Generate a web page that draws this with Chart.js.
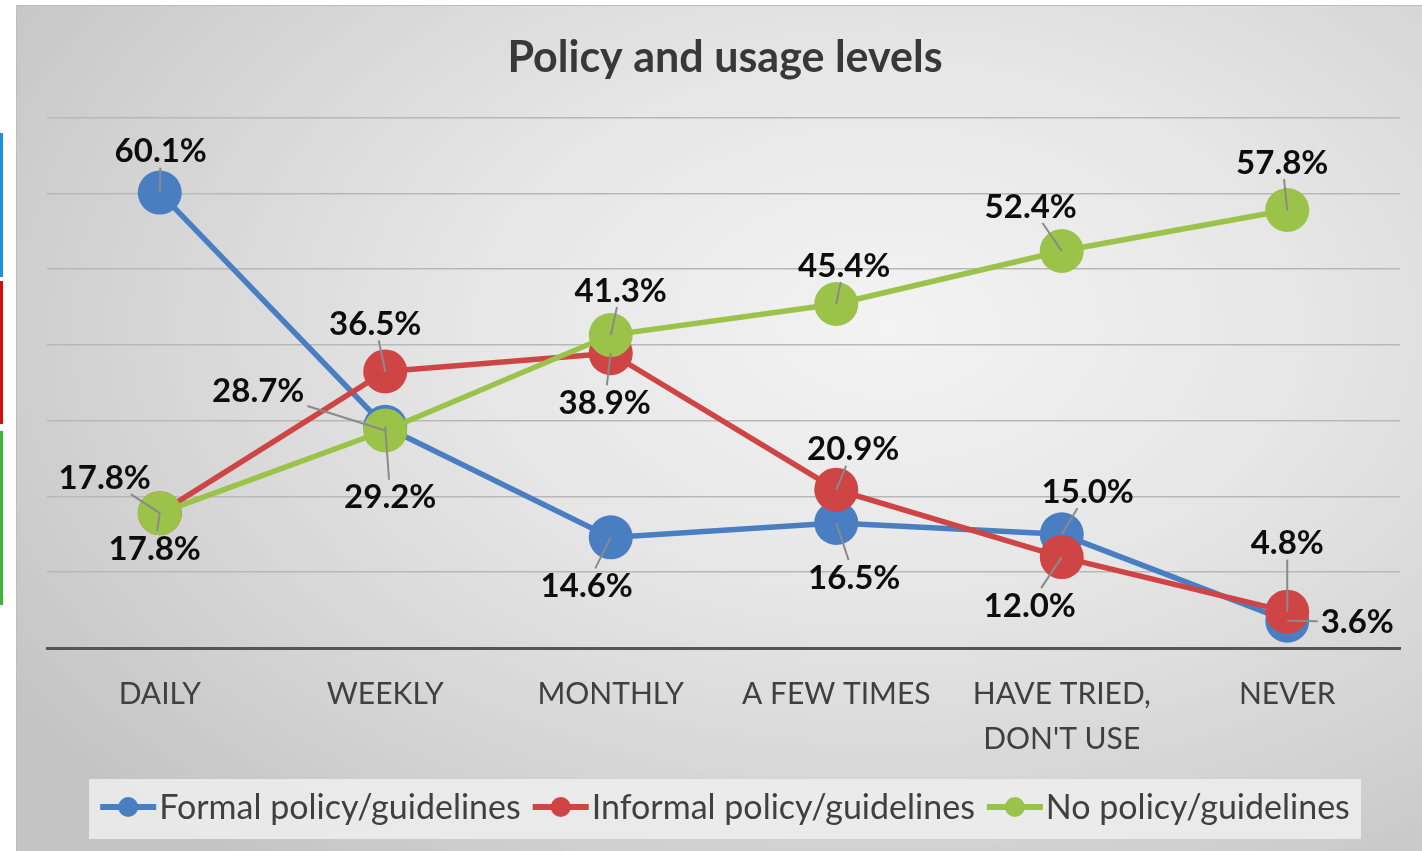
<!DOCTYPE html>
<html>
<head>
<meta charset="utf-8">
<script src="https://cdn.jsdelivr.net/npm/chart.js@4/dist/chart.umd.min.js"></script>
<style>
  html, body { margin: 0; padding: 0; background: #ffffff; }
  body { width: 1422px; height: 851px; position: relative; overflow: hidden; }
  #frame {
    position: absolute; left: 16px; top: 5px; width: 1406px; height: 846px;
    background: radial-gradient(ellipse 75% 80% at 62% 38%, #f3f3f3 0%, #e6e6e6 40%, #d3d3d3 75%, #c4c4c4 100%);
    border-top: 1px solid #bdbdbd; border-left: 1px solid #bdbdbd; box-sizing: border-box;
  }
  .mark { position: absolute; left: 0; width: 3px; }
</style>
</head>
<body>
<div class="mark" style="top:133px;height:144px;background:#1e90e0"></div>
<div class="mark" style="top:281px;height:143px;background:#d01010"></div>
<div class="mark" style="top:431px;height:174px;background:#3cb43c"></div>
<div id="frame"><canvas id="c"></canvas></div>
<script>
const categories = ['DAILY', 'WEEKLY', 'MONTHLY', 'A FEW TIMES', ['HAVE TRIED,', "DON'T USE"], 'NEVER'];
const formalValues = [60.1, 29.2, 14.6, 16.5, 15.0, 3.6];
const informalValues = [17.8, 36.5, 38.9, 20.9, 12.0, 4.8];
const noPolicyValues = [17.8, 28.7, 41.3, 45.4, 52.4, 57.8];
const seriesNames = ['Formal policy/guidelines', 'Informal policy/guidelines', 'No policy/guidelines'];
const yTicks = [0, 10, 20, 30, 40, 50, 60, 70];

// label offsets (pixels, label centre relative to point)
const labelOffsets = [
  [[1,-42],[5,70],[-24,48],[18,54],[26,-43],[70,1]],
  [[-55,-36],[-10,-48],[-6,49],[17,-41],[-32,48],[0,-69]],
  [[-5,35],[-127,-40],[10,-45],[8,-39],[-31,-45],[-5,-48]]
];
const colors = ['#4a7ec3', '#cf4545', '#9bc34a'];
const FONT = 'Lato, "Open Sans", sans-serif';

const labelPlugin = {
  id: 'dlabels',
  afterDatasetsDraw(chart) {
    const ctx = chart.ctx;
    ctx.save();
    ctx.font = 'bold 33px ' + FONT;
    ctx.textAlign = 'center';
    ctx.textBaseline = 'middle';
    chart.data.datasets.forEach((ds, di) => {
      const meta = chart.getDatasetMeta(di);
      meta.data.forEach((pt, i) => {
        const off = labelOffsets[di][i];
        const lx = pt.x + off[0], ly = pt.y + off[1];
        const text = ds.data[i].toFixed(1) + '%';
        const w = ctx.measureText(text).width;
        const hw = w / 2 + 3, hh = 17;
        const dx = lx - pt.x, dy = ly - pt.y;
        const tx = dx !== 0 ? hw / Math.abs(dx) : Infinity;
        const ty = dy !== 0 ? hh / Math.abs(dy) : Infinity;
        const t = Math.min(tx, ty);
        const ex = lx - dx * t, ey = ly - dy * t;
        ctx.strokeStyle = '#8a8a8a';
        ctx.lineWidth = 2;
        ctx.beginPath();
        ctx.moveTo(pt.x, pt.y);
        ctx.lineTo(ex, ey);
        ctx.stroke();
        ctx.fillStyle = '#0d0d0d';
        ctx.fillText(text, lx, ly + 1);
      });
    });
    ctx.restore();
  }
};

const legendPlugin = {
  id: 'customLegend',
  afterDraw(chart) {
    const ctx = chart.ctx;
    ctx.save();
    ctx.fillStyle = 'rgba(238,238,238,0.85)';
    ctx.fillRect(72, 773, 1272, 60);
    ctx.font = '34px ' + FONT;
    ctx.textBaseline = 'middle';
    ctx.textAlign = 'left';
    const markW = 56, gapAfterMark = 3, gapItems = 12;
    const widths = chart.data.datasets.map(d => ctx.measureText(d.label).width);
    const total = widths.reduce((a, b) => a + b, 0) + 3 * (markW + gapAfterMark) + 2 * gapItems;
    let x = 72 + (1272 - total) / 2;
    const y = 801;
    chart.data.datasets.forEach((d, i) => {
      ctx.strokeStyle = d.borderColor;
      ctx.lineWidth = 6;
      ctx.beginPath();
      ctx.moveTo(x, y); ctx.lineTo(x + markW, y); ctx.stroke();
      ctx.fillStyle = d.borderColor;
      ctx.beginPath();
      ctx.arc(x + markW / 2, y, 10, 0, Math.PI * 2);
      ctx.fill();
      x += markW + gapAfterMark;
      ctx.fillStyle = '#404040';
      ctx.fillText(d.label, x, y + 1);
      x += widths[i] + gapItems;
    });
    ctx.restore();
  }
};

const makeDs = (label, data, color, order) => ({
  label, data, order,
  borderColor: color, backgroundColor: color,
  borderWidth: 5.5, pointRadius: 22, pointHoverRadius: 22, pointBorderWidth: 0,
  tension: 0, fill: false
});

new Chart(document.getElementById('c'), {
  type: 'line',
  data: {
    labels: categories,
    datasets: [
      makeDs(seriesNames[0], formalValues, colors[0], 3),
      makeDs(seriesNames[1], informalValues, colors[1], 2),
      makeDs(seriesNames[2], noPolicyValues, colors[2], 1)
    ]
  },
  options: {
    responsive: true,
    maintainAspectRatio: false,
    animation: false,
    events: [],
    layout: { padding: { top: 0, left: 30, right: 19, bottom: 0 } },
    plugins: {
      legend: { display: false },
      tooltip: { enabled: false },
      title: {
        display: true,
        text: 'Policy and usage levels',
        color: '#383838',
        font: { family: FONT, size: 43, weight: 'bold', lineHeight: 1.2 },
        padding: { top: 26, bottom: 34 }
      }
    },
    scales: {
      x: {
        offset: true,
        grid: { display: false, drawTicks: false },
        border: { display: true, color: '#555555', width: 3 },
        ticks: { color: '#404040', font: { family: FONT, size: 30, lineHeight: 1.5 }, padding: 24, maxRotation: 0, autoSkip: false },
        afterFit(scale) { scale.height = 203; }
      },
      y: {
        min: 0, max: 70,
        afterBuildTicks(scale) { scale.ticks = yTicks.map(v => ({ value: v })); },
        grid: { color: '#b8b8b8', lineWidth: 1.5, drawTicks: false },
        border: { display: false },
        ticks: { display: false },
        afterFit(scale) { scale.width = 0; }
      }
    }
  },
  plugins: [labelPlugin, legendPlugin]
});
</script>
</body>
</html>
